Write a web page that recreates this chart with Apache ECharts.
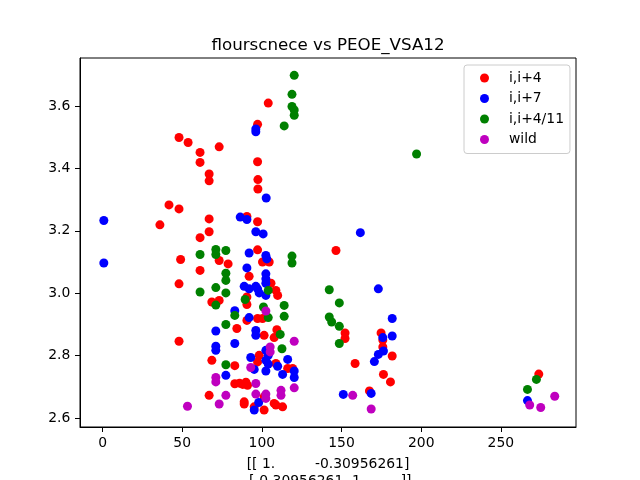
<!DOCTYPE html>
<html>
<head>
<meta charset="utf-8">
<script src="https://cdn.jsdelivr.net/npm/echarts@6.0.0/dist/echarts.min.js"></script>
<style>
  html, body { margin: 0; padding: 0; background: #fff; }
  #main { width: 640px; height: 480px; }
</style>
</head>
<body>
<div id="main"></div>
<script>
// points: [PEOE_VSA12, flourscnece]
var helix4 = [
  [48, 3.499], [53.7, 3.483], [61.2, 3.451], [73.2, 3.469], [61.2, 3.419], [66.9, 3.382],
  [66.9, 3.360], [41.7, 3.283], [48, 3.270], [36, 3.219], [66.9, 3.238], [66.9, 3.197],
  [61.2, 3.178], [90.6, 3.246], [97.3, 3.229], [97.3, 3.421], [97.5, 3.364], [97.5, 3.334],
  [97.3, 3.541], [104, 3.609], [49, 3.108], [73.2, 3.105], [78.8, 3.094], [61.2, 3.073],
  [48, 3.030], [68.6, 2.972], [73.2, 2.977], [84.3, 2.887], [48, 2.846], [68.6, 2.785],
  [83, 2.768], [66.9, 2.673], [83, 2.710], [86, 2.712], [88, 2.708], [90, 2.715], [91, 2.705],
  [88.9, 2.652], [88.9, 2.645], [97.3, 3.139], [92, 3.054], [90.6, 2.988], [90.6, 2.964],
  [90.6, 2.913], [97.3, 2.919], [100.4, 3.100], [104.6, 3.100], [146.5, 3.137], [105.7, 3.032],
  [108.8, 3.009], [109.9, 2.993], [100.4, 2.919], [101.4, 2.865], [109.4, 2.883], [107.7, 2.858],
  [98.3, 2.801], [97.3, 2.780], [119.3, 2.759], [101.4, 2.668], [107.7, 2.647], [113, 2.636],
  [101.4, 2.626], [95.2, 2.636], [108.8, 2.775], [116.2, 2.759], [108.8, 2.642],
  [152.2, 2.873], [152.2, 2.855], [174.8, 2.873], [175.9, 2.850], [175.9, 2.828], [181.8, 2.799],
  [158.5, 2.775], [176.3, 2.740], [180.7, 2.716], [167.5, 2.687], [273.8, 2.741]
];
var helix7 = [
  [0.8, 3.233], [0.8, 3.097], [86.4, 3.244], [90.6, 3.236], [96.2, 3.197], [96.2, 3.526],
  [96.2, 3.517], [102.7, 3.305], [100.8, 3.190], [92, 3.129], [90.6, 3.081], [88.9, 3.022],
  [92, 3.014], [97.3, 3.014], [92, 2.922], [96.2, 2.881], [96.2, 2.865], [83, 2.944],
  [71.1, 2.879], [71.1, 2.830], [71.1, 2.817], [83, 2.839], [77.4, 2.737], [95.2, 2.626],
  [93, 2.794], [95.2, 2.756], [102.5, 3.121], [103.1, 3.110], [102.5, 3.062], [102.5, 3.046],
  [102.5, 3.032], [96.2, 3.022], [98.3, 3.001], [102.5, 2.993], [102.5, 2.817], [104, 2.801],
  [102.5, 2.785], [104, 2.773], [102.5, 2.751], [109.9, 2.766], [116.2, 2.788], [120.3, 2.751],
  [120.3, 2.730], [113, 2.740], [98, 2.650], [161.8, 3.194], [173.1, 3.014], [181.8, 2.919],
  [181.8, 2.863], [175.9, 2.858], [176.3, 2.815], [173.1, 2.804], [170.6, 2.781], [168.6, 2.679],
  [151.1, 2.676], [266.7, 2.656]
];
var helix411 = [
  [120.3, 3.698], [118.9, 3.637], [118.9, 3.598], [120.3, 3.587], [120.3, 3.570], [114, 3.536],
  [61.2, 3.124], [71.1, 3.140], [71.1, 3.124], [77.4, 3.137], [77.4, 3.064], [77.4, 3.041],
  [61.2, 3.004], [71.1, 3.018], [77.4, 3.001], [71.1, 2.962], [83, 2.929], [77.4, 2.900],
  [77.4, 2.771], [89.5, 2.980], [118.9, 3.119], [118.9, 3.097], [104, 3.009], [114, 2.961],
  [114, 2.926], [101, 2.956], [104, 2.922], [111.5, 2.868], [112.6, 2.822], [142.3, 3.011],
  [148.6, 2.969], [142.3, 2.924], [143.8, 2.908], [148.6, 2.894], [148.6, 2.839], [197.1, 3.446],
  [272.3, 2.724], [266.7, 2.692]
];
var wild = [
  [71.1, 2.730], [71.1, 2.716], [77.4, 2.673], [53.3, 2.638], [73.2, 2.645], [93, 2.762],
  [96.2, 2.711], [96.2, 2.677], [102.5, 2.677], [102.5, 2.663], [112, 2.689], [112, 2.673],
  [120.3, 2.697], [120.3, 2.846], [105.2, 2.828], [105.2, 2.812], [102.5, 2.943], [157, 2.673],
  [168.6, 2.629], [268.1, 2.642], [275, 2.634], [283.8, 2.670]
];
var seriesNames = ['i,i+4', 'i,i+7', 'i,i+4/11', 'wild'];
var seriesColors = ['#ff0000', '#0000ff', '#008000', '#bf00bf'];
var xTicks = [0, 50, 100, 150, 200, 250];
var yTicks = [2.6, 2.8, 3.0, 3.2, 3.4, 3.6];
var titleText = 'flourscnece vs PEOE_VSA12';
var xLabelText = '[[ 1.         -0.30956261]\n [-0.30956261  1.        ]]';

var font = 'DejaVu Sans';
var myChart = echarts.init(document.getElementById('main'));

var allSeries = [helix4, helix7, helix411, wild].map(function (pts, i) {
  return {
    type: 'scatter',
    name: seriesNames[i],
    data: pts,
    symbol: 'circle',
    symbolSize: 9,
    itemStyle: { color: seriesColors[i], opacity: 1 },
    z: 2 + i
  };
});

var option = {
  animation: false,
  backgroundColor: '#fff',
  textStyle: { fontFamily: font },
  grid: {
    left: 80, right: 64, top: 58, bottom: 53,
    outerBoundsMode: 'none',
    containLabel: false,
    show: true, borderColor: '#000', borderWidth: 1
  },
  graphic: [{
    type: 'text',
    x: 328, y: 54,
    style: {
      text: titleText,
      align: 'center', verticalAlign: 'bottom',
      font: '16.7px "DejaVu Sans"', fill: '#000'
    }
  }],
  legend: {
    orient: 'vertical',
    left: 464, top: 65,
    padding: [6, 6, 7, 16],
    itemGap: 6.5,
    itemWidth: 9, itemHeight: 9,
    icon: 'circle',
    backgroundColor: 'rgba(255,255,255,0.8)',
    borderColor: '#cccccc', borderWidth: 1, borderRadius: 3,
    textStyle: { fontFamily: font, fontSize: 13.9, color: '#000', lineHeight: 14, padding: [0, 0, 0, 15] },
    data: seriesNames
  },
  xAxis: {
    type: 'value',
    min: -14.15, max: 297.15,
    name: xLabelText,
    nameLocation: 'middle',
    nameGap: 29,
    nameTextStyle: { fontFamily: font, fontSize: 13.9, color: '#000', lineHeight: 16.7, verticalAlign: 'top' },
    splitLine: { show: false },
    axisLine: { show: true, onZero: false, lineStyle: { color: '#000', width: 1 } },
    axisTick: { show: true, inside: false, length: 5, customValues: xTicks, lineStyle: { color: '#000' } },
    axisLabel: { customValues: xTicks, margin: 9.7, fontFamily: font, fontSize: 13.9, color: '#000' }
  },
  yAxis: {
    type: 'value',
    min: 2.5715, max: 3.7535,
    splitLine: { show: false },
    axisLine: { show: true, onZero: false, lineStyle: { color: '#000', width: 1 } },
    axisTick: { show: true, inside: false, length: 5, customValues: yTicks, lineStyle: { color: '#000' } },
    axisLabel: {
      customValues: yTicks, margin: 9.7, fontFamily: font, fontSize: 13.9, color: '#000',
      formatter: function (v) { return v.toFixed(1); }
    }
  },
  series: allSeries
};

myChart.setOption(option);
</script>
</body>
</html>
